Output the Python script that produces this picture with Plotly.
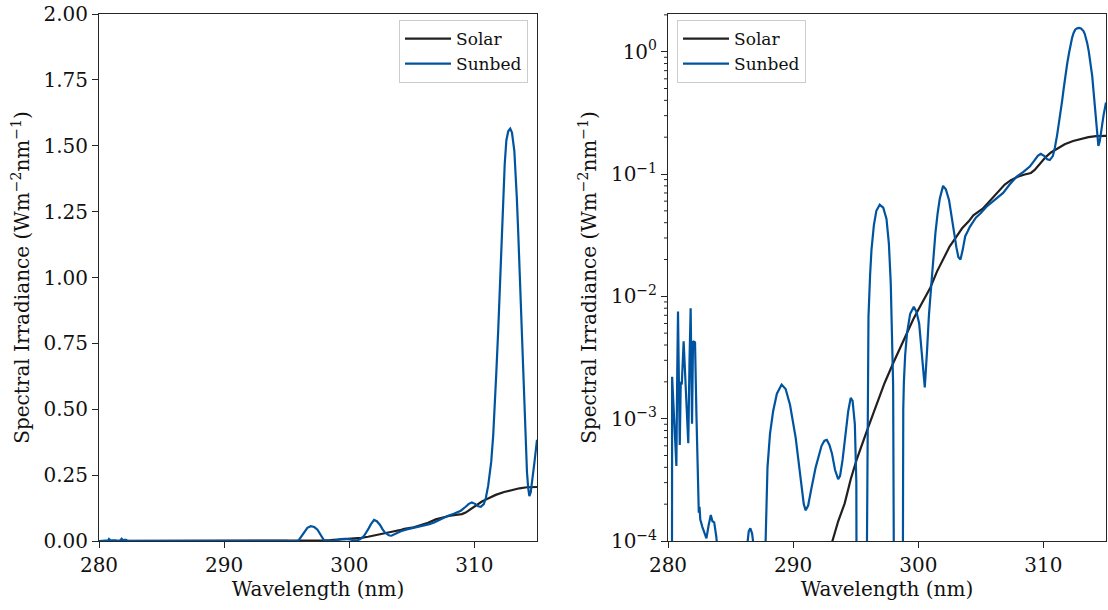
import math
import plotly.graph_objects as go

# Wavelength grid and spectral irradiance (W m^-2 nm^-1)
solar_nm = [280.0, 285.0, 290.0, 292.0, 293.1, 293.6, 294.12, 294.6, 295.07, 295.5,
            295.9, 296.4, 296.75, 297.3, 297.99, 298.5, 299.0, 299.6, 300.1, 300.4,
            300.95, 301.5, 302.07, 302.5, 303.05, 303.5, 304.03, 304.4, 305.15, 305.71,
            306.3, 306.91, 307.4, 307.95, 308.5, 309.0, 309.3, 309.71, 310.2, 310.6,
            311.05, 311.7, 312.37, 313.0, 313.6, 314.2, 315.0]
solar_val = [1e-7, 1e-6, 1e-5, 4e-5, 1.0e-4, 1.45e-4, 2.03e-4, 3.2e-4, 4.6e-4, 6.2e-4,
             8.0e-4, 1.1e-3, 1.39e-3, 1.95e-3, 2.84e-3, 3.7e-3, 4.84e-3, 6.5e-3, 8.1e-3, 9.3e-3,
             1.17e-2, 1.6e-2, 2.1e-2, 2.55e-2, 3.08e-2, 3.6e-2, 4.1e-2, 4.6e-2, 5.2e-2, 6.0e-2,
             6.9e-2, 8.2e-2, 8.9e-2, 9.5e-2, 0.099, 0.102, 0.108, 0.122, 0.138, 0.150,
             0.160, 0.175, 0.186, 0.194, 0.200, 0.204, 0.205]

sunbed_nm = [280.00, 280.30, 280.33, 280.45, 280.58, 280.67, 280.74, 280.80, 280.87, 280.94,
             281.02, 281.10, 281.25, 281.35, 281.50, 281.62, 281.72, 281.81, 281.87, 281.92,
             282.00, 282.16, 282.27, 282.38, 282.46, 282.52, 282.58, 282.75, 283.07, 283.25,
             283.42, 283.55, 283.69, 283.85, 284.00, 284.40, 285.50, 286.10, 286.32, 286.45,
             286.58, 286.72, 286.85, 287.20, 287.70, 287.80, 287.95, 288.15, 288.40, 288.70,
             289.08, 289.40, 289.75, 290.20, 290.59, 290.85, 291.00, 291.20, 291.43, 291.80,
             292.27, 292.50, 292.69, 292.90, 293.10, 293.35, 293.60, 293.75, 293.95, 294.20,
             294.40, 294.60, 294.75, 294.93, 295.05, 295.12, 295.84, 295.90, 295.95, 296.02,
             296.15, 296.26, 296.45, 296.65, 296.92, 297.20, 297.46, 297.65, 297.80, 297.92,
             297.99, 298.04, 298.08, 298.70, 298.74, 298.80, 298.85, 298.95, 299.10, 299.35,
             299.64, 299.85, 300.07, 300.33, 300.52, 300.70, 300.85, 301.05, 301.20, 301.37,
             301.55, 301.72, 301.98, 302.20, 302.46, 302.65, 302.84, 303.05, 303.20, 303.37,
             303.55, 303.75, 303.95, 304.12, 304.60, 305.00, 305.45, 306.00, 306.40, 306.78,
             307.30, 307.85, 308.40, 308.91, 309.30, 309.55, 309.79, 310.05, 310.30, 310.51,
             310.75, 310.91, 311.10, 311.34, 311.50, 311.62, 311.75, 311.90, 312.05, 312.19,
             312.30, 312.42, 312.55, 312.70, 312.86, 313.00, 313.19, 313.30, 313.39, 313.50,
             313.62, 313.75, 313.90, 314.00, 314.10, 314.20, 314.30, 314.39, 314.50, 314.60,
             314.80, 315.00]
sunbed_val = [1e-7, 1e-7, 2.2e-3, 1.2e-3, 6e-4, 4.1e-4, 2.5e-3, 7.5e-3, 2e-3, 6.1e-4,
              2.0e-3, 1.9e-3, 4.3e-3, 2.4e-3, 9e-4, 6.3e-4, 3e-3, 8.0e-3, 2.5e-3, 9.1e-4,
              4.3e-3, 4.2e-3, 1.1e-3, 3.2e-4, 1.7e-4, 1.9e-4, 1.5e-4, 1.3e-4, 1.05e-4, 1.35e-4,
              1.63e-4, 1.45e-4, 1.42e-4, 1.1e-4, 8e-5, 1e-5, 1e-6, 2e-5, 9e-5, 1.2e-4,
              1.27e-4, 1.15e-4, 9e-5, 1e-6, 1e-6, 1e-4, 4e-4, 7.5e-4, 1.15e-3, 1.6e-3,
              1.9e-3, 1.75e-3, 1.3e-3, 7e-4, 3.5e-4, 2.0e-4, 1.78e-4, 1.95e-4, 2.6e-4, 4.0e-4,
              6.0e-4, 6.6e-4, 6.7e-4, 6.1e-4, 5.2e-4, 3.8e-4, 3.2e-4, 3.4e-4, 4.6e-4, 8e-4,
              1.15e-3, 1.48e-3, 1.4e-3, 9e-4, 3e-4, 1e-7, 1e-7, 1e-4, 2e-3, 6.8e-3,
              1.5e-2, 2.4e-2, 3.8e-2, 5.0e-2, 5.6e-2, 5.3e-2, 4.3e-2, 2.7e-2, 1.28e-2, 5e-3,
              1.9e-3, 1e-4, 1e-7, 1e-7, 1e-4, 1.2e-3, 2e-3, 3.3e-3, 5e-3, 7.2e-3,
              8.2e-3, 7.5e-3, 6e-3, 2.7e-3, 1.8e-3, 3.6e-3, 7e-3, 1.28e-2, 2.1e-2, 3.3e-2,
              4.8e-2, 6.3e-2, 8.0e-2, 7.5e-2, 6.1e-2, 4.5e-2, 3.3e-2, 2.5e-2, 2.1e-2, 2.0e-2,
              2.4e-2, 3.1e-2, 3.4e-2, 3.7e-2, 4.4e-2, 4.8e-2, 5.4e-2, 6.0e-2, 6.4e-2, 7.0e-2,
              8.2e-2, 9.5e-2, 0.104, 0.115, 0.130, 0.141, 0.146, 0.141, 0.132, 0.130,
              0.140, 0.163, 0.21, 0.30, 0.40, 0.50, 0.64, 0.80, 0.98, 1.17,
              1.31, 1.43, 1.52, 1.555, 1.565, 1.55, 1.48, 1.40, 1.30, 1.17,
              1.01, 0.82, 0.63, 0.48, 0.36, 0.26, 0.20, 0.17, 0.185, 0.22,
              0.30, 0.384]

lin_ticks = [0.0, 0.25, 0.5, 0.75, 1.0, 1.25, 1.5, 1.75, 2.0]
log_ticks = [1e-4, 1e-3, 1e-2, 1e-1, 1e0]
log_labels = ["10<sup>\u22124</sup>", "10<sup>\u22123</sup>", "10<sup>\u22122</sup>",
              "10<sup>\u22121</sup>", "10<sup>0</sup>"]
x_ticks = [280, 290, 300, 310]

SOLAR_COLOR = "#231f20"
SUNBED_COLOR = "#00549f"
FONT = "DejaVu Serif"
AXIS_COLOR = "#262626"

W, H = 1108, 610
top = 1 - 14 / H
bottom = 1 - 541 / H
LOG_RANGE = [-4, 0.308]
X2_DOMAIN = [668 / W, 1106 / W]

fig = go.Figure()

for xa, ya, lg in (("x", "y", "legend"), ("x2", "y2", "legend2")):
    fig.add_trace(go.Scatter(x=solar_nm, y=solar_val, mode="lines", name="Solar",
                             line=dict(color=SOLAR_COLOR, width=2.2),
                             xaxis=xa, yaxis=ya, legend=lg))
    fig.add_trace(go.Scatter(x=sunbed_nm, y=sunbed_val, mode="lines", name="Sunbed",
                             line=dict(color=SUNBED_COLOR, width=2.2),
                             xaxis=xa, yaxis=ya, legend=lg))

# Minor ticks (2..9 per decade) on the logarithmic axis, drawn as short outward strokes
span = LOG_RANGE[1] - LOG_RANGE[0]
for decade in range(-4, 1):
    for m in range(2, 10):
        frac = (math.log10(m) + decade - LOG_RANGE[0]) / span
        if frac > 1:
            continue
        yp = bottom + frac * (top - bottom)
        fig.add_shape(type="line", xref="paper", yref="paper",
                      x0=X2_DOMAIN[0] - 4 / W, x1=X2_DOMAIN[0], y0=yp, y1=yp,
                      line=dict(color=AXIS_COLOR, width=1), layer="above")

axis_common = dict(
    showline=True, mirror=True, linecolor=AXIS_COLOR, linewidth=1,
    ticks="outside", ticklen=6, tickwidth=1, tickcolor=AXIS_COLOR,
    showgrid=False, zeroline=False, automargin=False,
    tickfont=dict(family=FONT, size=20, color="#111"),
)
title_font = dict(family=FONT, size=20, color="#111")
ytitle = "Spectral Irradiance (Wm<sup>\u22122</sup>nm<sup>\u22121</sup>)"
legend_common = dict(
    yanchor="top", y=1 - 20 / H,
    bgcolor="rgba(255,255,255,0.8)", bordercolor="#cccccc", borderwidth=1,
    font=dict(family=FONT, size=17, color="#111"), tracegroupgap=0, itemwidth=46,
)

fig.update_layout(
    width=W, height=H,
    margin=dict(l=0, r=0, t=0, b=0),
    paper_bgcolor="white", plot_bgcolor="white",
    font=dict(family=FONT, color="#111"),
    xaxis=dict(domain=[99 / W, 537 / W], range=[280, 315], tickvals=x_ticks,
               title=dict(text="Wavelength (nm)", font=title_font, standoff=4),
               anchor="y", **axis_common),
    yaxis=dict(domain=[bottom, top], range=[0, 2], tickvals=lin_ticks, tickformat=".2f",
               title=dict(text=ytitle, font=title_font, standoff=8),
               anchor="x", **axis_common),
    xaxis2=dict(domain=X2_DOMAIN, range=[280, 315], tickvals=x_ticks,
                title=dict(text="Wavelength (nm)", font=title_font, standoff=4),
                anchor="y2", **axis_common),
    yaxis2=dict(domain=[bottom, top], type="log", range=LOG_RANGE,
                tickvals=log_ticks, ticktext=log_labels,
                title=dict(text=ytitle, font=title_font, standoff=8),
                anchor="x2", **axis_common),
    legend=dict(x=528 / W, xanchor="right", **legend_common),
    legend2=dict(x=677 / W, xanchor="left", **legend_common),
)

fig.write_html("out.html")
